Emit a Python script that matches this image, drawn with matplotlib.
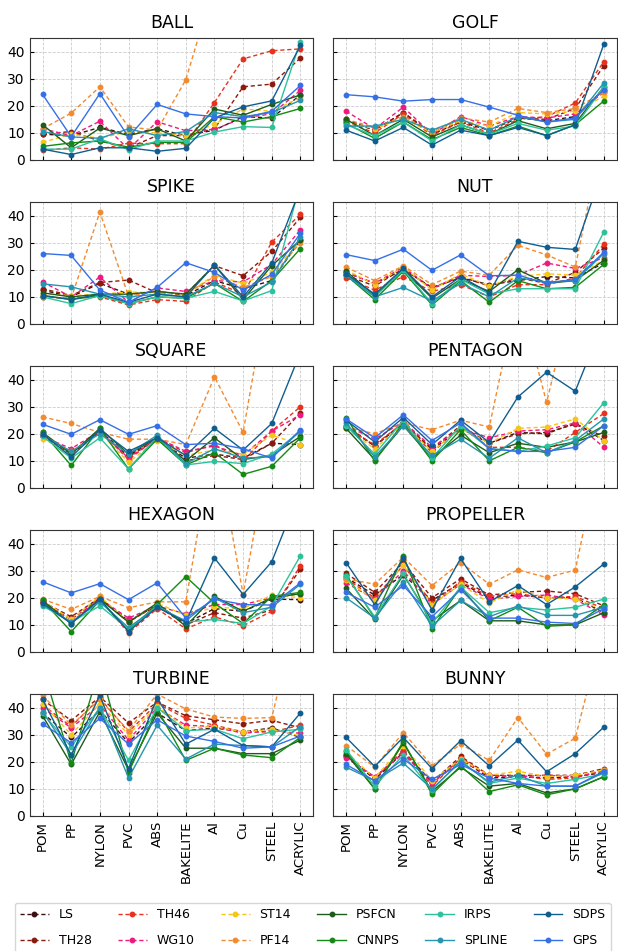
import matplotlib.pyplot as plt
import numpy as np

# ========================================
# Datos: error por material y metodo
# ========================================
materials = ["POM", "PP", "NYLON", "PVC", "ABS", "BAKELITE", "Al", "Cu", "STEEL", "ACRYLIC"]
methods = ["LS", "TH28", "TH46", "WG10", "ST14", "PF14",
           "PSFCN", "CNNPS", "IRPS", "SPLINE", "SDPS", "GPS"]
shapes = ["BALL", "GOLF", "SPIKE", "NUT", "SQUARE", "PENTAGON",
          "HEXAGON", "PROPELLER", "TURBINE", "BUNNY"]

ball = {
    "LS":     [9.5, 9, 12, 9.5, 11.5, 9, 11, 16, 15.5, 24],
    "TH28":   [9.5, 10.5, 7, 4.5, 9, 9, 11.5, 27, 28, 37.6],
    "TH46":   [3.5, 4.5, 4, 6.2, 6, 6, 21.2, 37.3, 40.3, 41],
    "WG10":   [11.5, 9, 14.3, 4, 14.1, 10.8, 11.3, 15.5, 17, 25.7],
    "ST14":   [6.5, 9.5, 8, 10.5, 10, 9, 13.2, 18.8, 18, 23],
    "PF14":   [11.5, 17.3, 27, 12.2, 11, 29.6, 65, 80, 90, 95],
    "PSFCN":  [13, 4.5, 11.8, 9, 11.5, 7, 18.8, 16.5, 20.5, 24],
    "CNNPS":  [5, 6.3, 7, 4.7, 6.5, 6.5, 16, 14, 16, 19],
    "IRPS":   [4, 4, 7.8, 3.8, 7, 7, 10.3, 12.3, 12, 43.7],
    "SPLINE": [10.5, 8.5, 8, 11.5, 9, 10.5, 17.5, 16, 17.5, 22],
    "SDPS":   [4, 2, 4.5, 4.5, 3.2, 4.3, 15.5, 19.6, 21.8, 42.3],
    "GPS":    [24.2, 8.6, 24.5, 8.5, 20.5, 17, 16, 15.5, 18, 27.5],
}

golf = {
    "LS":     [14.5, 11, 17.5, 9.5, 14, 11, 15.5, 14.5, 16, 26],
    "TH28":   [15, 11, 17.5, 10, 14.5, 11, 15.5, 15, 19, 34.8],
    "TH46":   [14, 10, 17, 9, 14, 10, 15, 16, 21, 36.3],
    "WG10":   [18, 11.5, 19.5, 9.5, 16, 12.5, 16, 15.5, 17, 25],
    "ST14":   [14, 11.5, 15.5, 10, 14.5, 12.5, 17.5, 17, 18, 23.5],
    "PF14":   [15, 12, 16, 10.5, 15.5, 14, 19, 17.5, 19, 25],
    "PSFCN":  [15, 9, 15, 8.5, 13, 9.5, 14.5, 11.5, 13.5, 27],
    "CNNPS":  [13.5, 8, 14, 7.5, 12, 9, 12.5, 9, 13, 21.8],
    "IRPS":   [13, 9, 14, 7, 13, 9.5, 13.5, 11, 12.5, 27],
    "SPLINE": [12.5, 12.5, 15, 11, 15, 11, 16, 14, 15, 28.5],
    "SDPS":   [11, 7, 12, 5.5, 11, 9, 12, 9, 13, 42.8],
    "GPS":    [24.1, 23.3, 21.7, 22.3, 22.3, 19.5, 16.5, 14, 15.5, 26],
}

spike = {
    "LS":     [12.5, 10, 15, 11, 12, 10.5, 16, 13, 16, 31],
    "TH28":   [13, 10.5, 15.3, 16.2, 11.5, 11, 21.5, 17.8, 26.8, 39.3],
    "TH46":   [10, 9.5, 10, 7, 9, 8.3, 15.5, 11, 30.2, 40.5],
    "WG10":   [15.5, 10, 17.3, 8, 13.3, 12, 16, 15.5, 22, 34.8],
    "ST14":   [11, 10.5, 11, 11.8, 11.5, 11, 18, 15, 19, 30.5],
    "PF14":   [10, 9.5, 41.3, 10.3, 12, 11, 17.5, 13.5, 17.5, 30],
    "PSFCN":  [11.5, 10, 11, 11, 12, 11, 21.7, 9, 21.5, 31],
    "CNNPS":  [10.5, 9, 10.5, 7.5, 10, 9.5, 15, 8.3, 16, 27.8],
    "IRPS":   [10, 7.5, 10.5, 7.5, 10, 9.5, 12, 8.5, 12.3, 52],
    "SPLINE": [14.8, 13.7, 11, 10, 11, 10, 15, 10, 15.5, 32],
    "SDPS":   [10.5, 9, 11, 8, 11, 10, 21.8, 10, 22.5, 50],
    "GPS":    [26, 25.3, 12.5, 8, 13.5, 22.6, 19, 12.5, 18.3, 33.5],
}

nut = {
    "LS":     [19, 15, 20, 13.5, 17, 14.5, 16, 17.5, 17, 22.5],
    "TH28":   [18, 14, 20.5, 13, 17.5, 14, 17, 15, 19, 28],
    "TH46":   [17, 12.5, 17.5, 12, 14.5, 10, 14.5, 14.5, 17, 29.5],
    "WG10":   [19, 15, 21, 13, 18, 17.5, 18, 22.5, 20.5, 24.5],
    "ST14":   [20, 14.5, 21, 12.5, 18.5, 14, 17.5, 18.5, 18, 23.5],
    "PF14":   [21, 16, 21.5, 14.5, 19.5, 18, 29, 25.5, 21, 72],
    "PSFCN":  [19.5, 10.5, 20, 9.5, 16.5, 12, 20, 15, 16, 23.5],
    "CNNPS":  [18, 9, 19.5, 7, 16, 8, 16, 13, 13.5, 22],
    "IRPS":   [18.5, 10, 20, 7.5, 16.5, 11, 13, 13, 13, 34],
    "SPLINE": [18, 10, 13.5, 8.5, 15, 10, 17, 15.5, 16, 26],
    "SDPS":   [18.5, 11, 20.5, 10, 17.5, 11.5, 30.5, 28.3, 27.5, 58],
    "GPS":    [25.6, 23.4, 27.6, 19.8, 25.5, 17.8, 18, 15, 16.5, 26.5],
}

square = {
    "LS":     [19.5, 13, 21, 12, 18, 11, 12.5, 11, 16.5, 16],
    "TH28":   [19, 12.5, 20.5, 11.5, 18, 10, 12, 10.5, 16.5, 27.7],
    "TH46":   [19, 13, 21, 10.5, 18.5, 13, 16, 10, 21, 30],
    "WG10":   [19, 14.5, 21, 11, 18.5, 13.5, 15.5, 12, 21, 27],
    "ST14":   [18, 13.5, 20.5, 9.5, 17.5, 12, 14, 12.5, 19.5, 16],
    "PF14":   [26.2, 23.8, 20.5, 18, 18, 16, 41, 20.5, 81, 90],
    "PSFCN":  [20.5, 12.5, 22, 12.5, 18.5, 10, 18.5, 10.5, 12, 19],
    "CNNPS":  [20.5, 8.3, 22, 7, 18, 8.5, 13, 5, 8, 18.5],
    "IRPS":   [19, 11, 18.5, 7, 19, 8.5, 9.8, 9, 12.5, 21],
    "SPLINE": [19.5, 13.5, 20, 12.5, 19.5, 9, 14.5, 11, 11.5, 21],
    "SDPS":   [20, 11.5, 21.5, 13.5, 18.5, 12, 22, 14, 23.8, 50],
    "GPS":    [23.5, 19.8, 25.2, 19.8, 23, 16, 16.5, 14.5, 11, 21.5],
}

pentagon = {
    "LS":     [22.5, 15.5, 24, 14, 22, 16.5, 20.5, 20, 24, 17.5],
    "TH28":   [23, 15.5, 24, 14.5, 23, 16.5, 20, 20.5, 23.5, 19],
    "TH46":   [22, 16, 24, 13, 22.5, 15, 15, 13.5, 20.5, 27.5],
    "WG10":   [23, 18, 24.5, 15, 22, 18.5, 21, 21.5, 24, 15],
    "ST14":   [22, 14.5, 23.5, 13.5, 22, 16.5, 22, 22.5, 25.5, 17.5],
    "PF14":   [22.5, 20, 24, 21.5, 25, 22.5, 72, 31.6, 75, 80],
    "PSFCN":  [22, 10.5, 23, 11, 19.5, 13, 16.5, 15, 17, 20.5],
    "CNNPS":  [26, 10, 24, 10, 21.5, 10, 15, 13, 17, 23],
    "IRPS":   [23, 12.5, 25, 11, 23, 14.5, 13.5, 15.5, 18.5, 31.5],
    "SPLINE": [24, 11.5, 23, 12, 18, 11, 18.5, 13, 17.5, 25.5],
    "SDPS":   [25, 17, 26, 16, 25, 16.8, 33.6, 42.7, 35.7, 62],
    "GPS":    [25.5, 18.5, 27, 17.5, 24, 14.5, 13.5, 13.5, 15, 23],
}

hexagon = {
    "LS":     [18.5, 12, 20, 11, 17.5, 10.5, 16, 15, 19.5, 19.3],
    "TH28":   [18.5, 13, 20, 11.5, 17, 10, 14.5, 12.5, 15.5, 30.5],
    "TH46":   [18, 11, 19.5, 7, 16, 8.5, 13, 9.7, 15, 31.8],
    "WG10":   [18, 12, 19.5, 12.5, 17, 14, 17.5, 17.5, 20, 21.5],
    "ST14":   [19, 12, 20.5, 11, 18, 13.5, 16.5, 16, 21, 20],
    "PF14":   [19.5, 15.7, 20.5, 16.3, 18.5, 18.5, 80, 21.3, 80, 85],
    "PSFCN":  [19, 10.5, 19.5, 11, 18, 9.5, 20.5, 15, 20, 21.5],
    "CNNPS":  [19, 7.5, 19, 8, 17.5, 27.8, 18, 10.5, 20.5, 22],
    "IRPS":   [17, 11, 17, 8.5, 17, 11, 12, 10.5, 17, 35.5],
    "SPLINE": [17.5, 11, 18.5, 9, 16.5, 11.5, 20, 14.5, 16.5, 25],
    "SDPS":   [18, 10.5, 19.5, 7.5, 16.5, 11, 34.7, 21.2, 33.3, 60],
    "GPS":    [25.9, 21.8, 25.2, 19.3, 25.5, 12.5, 19.5, 17.5, 17.3, 25.5],
}

propeller = {
    "LS":     [27.5, 21, 28.5, 19, 25.5, 20, 21, 20, 20, 14.5],
    "TH28":   [29, 22, 33, 20, 27, 21, 22, 22.5, 21.5, 17],
    "TH46":   [27, 20, 32, 18, 26, 20.5, 21.5, 20, 20.5, 16],
    "WG10":   [25.5, 19.5, 30, 17.5, 25, 19.5, 20.5, 21, 19.5, 13.5],
    "ST14":   [26.5, 19, 32, 17.5, 25, 18, 23, 20, 19.5, 15.5],
    "PF14":   [27, 25, 35, 24.5, 33, 25, 30.3, 27.5, 30.2, 80],
    "PSFCN":  [23.5, 12, 28.5, 11.5, 19, 11.5, 11.5, 10, 10, 14.5],
    "CNNPS":  [28.5, 12.5, 35.5, 8.5, 24, 11.5, 16.5, 9.5, 10, 17.5],
    "IRPS":   [28, 13, 29, 10.5, 24, 14.5, 16.5, 15.5, 16.5, 19.5],
    "SPLINE": [20, 12.5, 26, 9.5, 19, 13, 17, 13.5, 13.5, 16.5],
    "SDPS":   [33, 17.5, 34.5, 15.5, 34.5, 18.5, 24.5, 17.5, 24, 32.5],
    "GPS":    [22, 16.5, 24.5, 13, 23, 12.5, 12.5, 11, 10.5, 16],
}

turbine = {
    "LS":     [38, 29, 39, 27, 38, 31.5, 32.5, 31, 32.5, 29],
    "TH28":   [43, 35.2, 44, 34.3, 42, 37, 35.5, 34, 35.3, 32.5],
    "TH46":   [41, 33, 43.5, 31, 41.5, 36, 33.5, 31, 31, 33.5],
    "WG10":   [40, 32.5, 41, 28, 40, 33.5, 33, 30.5, 31.5, 30.5],
    "ST14":   [41.5, 30, 41.5, 30, 40.5, 32.5, 33, 31, 32, 29.5],
    "PF14":   [44.5, 33.5, 43, 31.5, 45, 39.5, 36.5, 36, 36.3, 80],
    "PSFCN":  [37, 19, 38.5, 17, 38, 25, 25, 23, 23, 28],
    "CNNPS":  [55, 19.5, 55, 16, 39.5, 20.5, 25, 22.5, 21.5, 29],
    "IRPS":   [38, 25.5, 40, 20.5, 40, 31.5, 32, 28.5, 31, 32],
    "SPLINE": [38.5, 22.5, 40, 14, 33.5, 21, 26.5, 26, 25.5, 33],
    "SDPS":   [43, 22.5, 44.5, 17.5, 43.5, 26.5, 32, 26, 25.5, 38],
    "GPS":    [34, 27, 36, 26.5, 35.5, 29.5, 27.5, 25, 25.5, 29.5],
}

bunny = {
    "LS":     [22.5, 13.5, 23.5, 12.5, 21, 14, 14.5, 14, 14.5, 16],
    "TH28":   [22, 14, 24, 12.5, 22, 15, 15, 15, 15, 17.5],
    "TH46":   [22, 14, 24, 11, 21.5, 14.5, 15, 13.5, 14, 17],
    "WG10":   [21.5, 14.5, 23, 12, 20.5, 15, 14.5, 15, 14.5, 16.5],
    "ST14":   [23.5, 14, 26, 13, 21, 15, 16.5, 14.5, 15, 17],
    "PF14":   [26, 18, 30.8, 18.5, 26.5, 20.5, 36.3, 22.8, 28.7, 70],
    "PSFCN":  [23, 10, 27, 9, 18, 11, 12, 8.5, 10, 14.5],
    "CNNPS":  [24, 10, 27.5, 8, 18.5, 9, 11.5, 7.8, 10, 14.5],
    "IRPS":   [24.5, 11, 22.5, 9.5, 20.5, 12, 14, 12, 13.5, 15.5],
    "SPLINE": [18, 13, 19.5, 10, 20, 12.5, 15, 11, 11, 16],
    "SDPS":   [29, 18.3, 29, 17.5, 27.8, 18.5, 28, 16.3, 23, 32.8],
    "GPS":    [19, 13, 21, 13.5, 19, 14, 12, 11, 11, 16.5],
}

datos = [ball, golf, spike, nut, square, pentagon, hexagon, propeller, turbine, bunny]

# ========================================
# Colores y estilos por metodo
# ========================================
colores = {
    "LS": "#3d1010", "TH28": "#8c1a0e", "TH46": "#e8321e", "WG10": "#f0197f",
    "ST14": "#f5c518", "PF14": "#f28a30", "PSFCN": "#1d5c1d", "CNNPS": "#138a13",
    "IRPS": "#2ec29c", "SPLINE": "#2595b0", "SDPS": "#105e90", "GPS": "#3570e6",
}
tradicionales = ["LS", "TH28", "TH46", "WG10", "ST14", "PF14"]

fig, axes = plt.subplots(5, 2, figsize=(6.18, 9.51), dpi=100, sharex=True, sharey=True)
fig.subplots_adjust(left=0.048, right=0.998, top=0.960, bottom=0.142,
                    wspace=0.07, hspace=0.345)

x = np.arange(len(materials))

for ax, nombre, d in zip(axes.flat, shapes, datos):
    for m in methods:
        if m in tradicionales:
            ls = (0, (3, 2))
        else:
            ls = "-"
        ax.plot(x, d[m], linestyle=ls, marker="o", markersize=3.2,
                linewidth=1.0, color=colores[m], label=m)
    ax.set_title(nombre, fontsize=12.5, pad=7)
    ax.set_ylim(0, 45)
    ax.set_yticks([0, 10, 20, 30, 40])
    ax.grid(True, linestyle="--", linewidth=0.6, color="#cccccc")
    ax.set_axisbelow(True)
    ax.tick_params(direction="in", length=3, labelsize=10)
    for s in ax.spines.values():
        s.set_color("#333333")

for ax in axes[-1]:
    ax.set_xticks(x)
    ax.set_xticklabels(materials, rotation=90, fontsize=9.5)

# Leyenda comun abajo (se sale un poco por la derecha)
handles, labels = axes[0, 0].get_legend_handles_labels()
fig.legend(handles, labels, loc="upper left", bbox_to_anchor=(0.024, 0.0505),
           borderaxespad=0, ncol=6, fontsize=9, frameon=True, handlelength=2.3,
           handletextpad=0.8, columnspacing=2.1, labelspacing=1.05,
           borderpad=0.4)

plt.savefig("out.png", dpi=100)
plt.close()
